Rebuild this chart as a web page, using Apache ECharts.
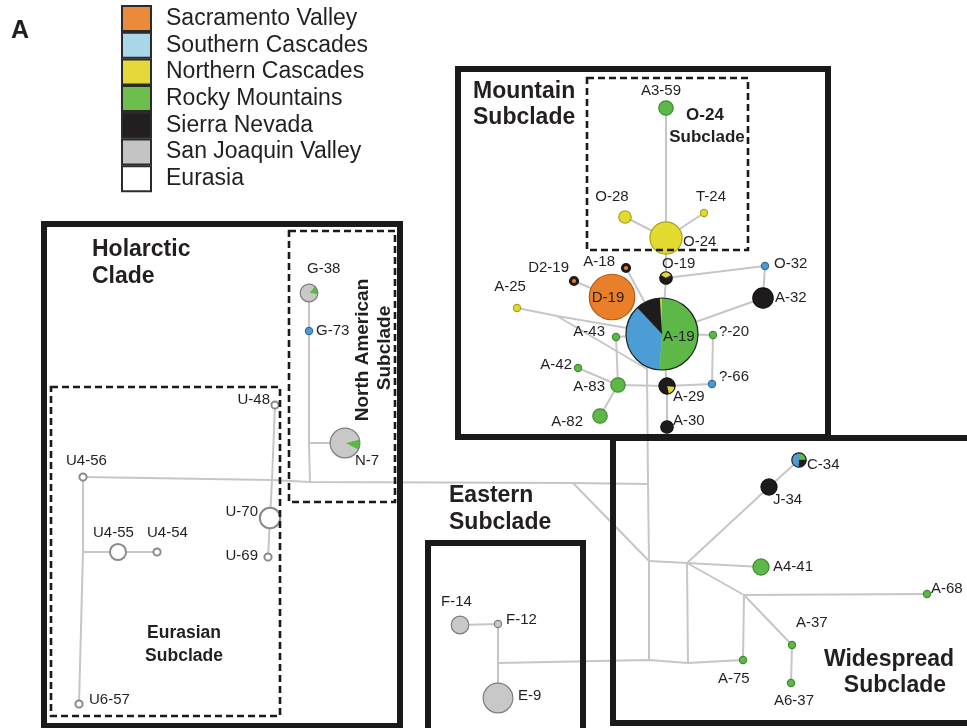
<!DOCTYPE html>
<html>
<head>
<meta charset="utf-8">
<script src="https://cdn.jsdelivr.net/npm/echarts@6/dist/echarts.min.js"></script>
<style>
  html, body { margin: 0; padding: 0; background: #ffffff; }
  #chart { width: 967px; height: 728px; }
</style>
</head>
<body>
<div id="chart"></div>
<script>
// ---- Regions (legend order) ----
const REGIONS = ['Sacramento Valley', 'Southern Cascades', 'Northern Cascades',
                 'Rocky Mountains', 'Sierra Nevada', 'San Joaquin Valley', 'Eurasia'];
const SWATCH  = ['#EC8A3C', '#A9D6E9', '#E4D83B', '#6DBE4C', '#231F20', '#C4C4C4', '#FFFFFF'];
const FILL    = ['#EA7F2A', '#4C9DD6', '#E2DA2C', '#5DB847', '#1E1B1C', '#C8C8C8', '#FFFFFF'];
const OUTLINE = ['#B55A16', '#2F6A9E', '#A9A21E', '#3C8A30', '#111111', '#7D7D7D', '#8A8A8A'];

// ---- Haplotypes ----
const NODE_NAMES = ['A3-59','O-28','T-24','O-24','A-18','D2-19','D-19','O-19','O-32','A-32',
  'A-25','A-19','A-43','?-20','A-42','A-83','A-29','?-66','A-82','A-30',
  'G-38','G-73','N-7','U-48','U4-56','U-70','U4-55','U4-54','U-69','U6-57',
  'F-14','F-12','E-9','C-34','J-34','A4-41','A-68','A-37','A-75','A6-37'];
// sample counts per region, [regionIndex, count], listed clockwise
const NODE_COUNTS = [
  [[3,4]], [[2,3]], [[2,1]], [[2,20]], [[0,1]], [[0,1]], [[0,40]], [[2,1],[4,2]], [[1,1]], [[4,8]],
  [[2,1]], [[3,51],[1,37],[4,11],[2,1]], [[3,1]], [[3,1]], [[3,1]], [[3,4]], [[2,1],[4,4]], [[1,1]], [[3,4]], [[4,3]],
  [[3,1],[5,5]], [[1,1]], [[3,2],[5,15]], [[6,1]], [[6,1]], [[6,8]], [[6,5]], [[6,1]], [[6,1]], [[6,1]],
  [[5,6]], [[5,1]], [[5,17]], [[3,1],[4,1],[1,2]], [[4,5]], [[3,5]], [[3,1]], [[3,1]], [[3,1]], [[3,1]]
];
// network layout (drawing units)
const NODE_X = [666,625,704,666,626,574,612,666,765,763, 517,662,616,713,578,618,667,712,600,667,
                309,309,345,275,83,270,118,157,268,79, 460,498,498,799,769,761,927,792,743,791];
const NODE_Y = [108,217,213,238,268,281,297,278,266,298, 308,334,337,335,368,385,386,384,416,427,
                293,331,443,405,477,518,552,552,557,704, 625,624,698,460,487,567,594,645,660,683];
// first-slice start angle (degrees clockwise from 12 o'clock)
const NODE_START = [0,0,0,0,0,0,0,-60,0,0, 0,0,0,0,0,0,95,0,0,0,
                    40,0,75,0,0,0,0,0,0,0, 0,0,0,0,0,0,0,0,0,0];
const RINGED = ['A-18', 'D2-19'];
// label placement: [dx, dy, align]
const NODE_LABEL = [
  [-5,-17,'center'],[-13,-20,'center'],[7,-16,'center'],[17,4,'left'],[-11,-6,'right'],
  [-5,-13,'right'],[-4,1,'center'],[-4,-14,'left'],[9,-2,'left'],[12,0,'left'],
  [-7,-21,'center'],[1,3,'left'],[-11,-5,'right'],[6,-3,'left'],[-6,-3,'right'],
  [-13,2,'right'],[6,11,'left'],[7,-7,'left'],[-17,6,'right'],[6,-6,'left'],
  [-2,-24,'left'],[7,0,'left'],[10,18,'left'],[-5,-5,'right'],[-17,-16,'left'],
  [-12,-6,'right'],[-25,-19,'left'],[-10,-19,'left'],[-10,-1,'right'],[10,-4,'left'],
  [-19,-23,'left'],[8,-4,'left'],[20,-2,'left'],[8,5,'left'],[4,13,'left'],
  [12,0,'left'],[4,-5,'left'],[4,-22,'left'],[-25,19,'left'],[-17,18,'left']
];

// ---- Median (unsampled) junctions ----
const JUNCTION_NAMES = ['jA25','jT0','jT1','jT2','jT3','jW1','jW2','jW3','jE0','jH1','jH2','jN','jU1','jF'];
const JUNCTION_X = [557,647,648,649,649,687,744,688,573,272,310,309,83,498];
const JUNCTION_Y = [316,369,484,561,660,563,595,663,483,480,482,443,552,663];

// ---- Mutational connections ----
const EDGES = [
  ['A3-59','O-24'], ['O-28','O-24'], ['T-24','O-24'], ['O-24','O-19','A-19'],
  ['O-19','O-32','A-32','A-19'], ['A-18','A-19'], ['D2-19','D-19'],
  ['A-25','jA25','A-19'], ['jA25','jT0','jT1','jT2','jT3'],
  ['A-43','A-19'], ['A-43','A-83'], ['A-42','A-83'], ['A-83','A-82'],
  ['A-83','A-29','?-66','?-20','A-19'], ['A-19','A-29','A-30'],
  ['U4-56','jH1','jH2','jE0','jT1'], ['jE0','jT2'],
  ['U-48','jH1','U-70','U-69'], ['U4-56','jU1','U6-57'], ['jU1','U4-55','U4-54'],
  ['G-38','G-73','jN','jH2'], ['jN','N-7'],
  ['F-14','F-12','jF','E-9'], ['jF','jT3','jW3','A-75'],
  ['jT2','jW1','A4-41'], ['jW1','J-34','C-34'], ['jW1','jW2','A-37','A6-37'],
  ['jW2','A-68'], ['jW2','A-75'], ['jW1','jW3']
];

// ---- Clade frames ----
const CLADE_BOXES = [[44,224,400,726],[458,69,828,437],[428,543,583,740],[613,438,975,723]];
const SUBCLADE_BOXES = [[587,78,748,250],[289,231,395,502],[51,387,280,716]];
// headings: [text, x, y, size, align, rotated]
const HEADINGS = [
  ['A', 11, 31, 25, 'left', 0],
  ['Mountain', 473, 92, 23, 'left', 0], ['Subclade', 473, 118, 23, 'left', 0],
  ['O-24', 705, 115, 17, 'center', 0], ['Subclade', 707, 137, 17, 'center', 0],
  ['Holarctic', 92, 250, 23, 'left', 0], ['Clade', 92, 277, 23, 'left', 0],
  ['North American', 363, 350, 19, 'center', 1], ['Subclade', 385, 348, 19, 'center', 1],
  ['Eurasian', 184, 633, 17.5, 'center', 0], ['Subclade', 184, 656, 17.5, 'center', 0],
  ['Eastern', 449, 496, 23, 'left', 0], ['Subclade', 449, 523, 23, 'left', 0],
  ['Widespread', 889, 660, 23, 'center', 0], ['Subclade', 895, 686, 23, 'center', 0]
];

const FONT = '"Liberation Sans", Arial, Helvetica, sans-serif';
const INK = '#231F20';

function pointOf(name) {
  let i = NODE_NAMES.indexOf(name);
  if (i >= 0) return [NODE_X[i], NODE_Y[i]];
  i = JUNCTION_NAMES.indexOf(name);
  return [JUNCTION_X[i], JUNCTION_Y[i]];
}
function total(n) { return NODE_COUNTS[n].reduce((s, p) => s + p[1], 0); }
function radiusPx(n, api) {
  const unit = api.size([1, 1])[0];
  return 3.6 * Math.sqrt(total(n)) * unit;
}

const chart = echarts.init(document.getElementById('chart'), null, { renderer: 'canvas' });

const series = [];

// connections
series.push({
  type: 'custom', name: 'edges', coordinateSystem: 'cartesian2d', silent: true,
  encode: { x: 0, y: 1 },
  data: EDGES.map((p, i) => [pointOf(p[0])[0], pointOf(p[0])[1], i]),
  renderItem: function (params, api) {
    const path = EDGES[api.value(2)];
    return {
      type: 'polyline',
      shape: { points: path.map(nm => api.coord(pointOf(nm))) },
      style: { stroke: '#C6C6C6', lineWidth: 2, fill: null, lineJoin: 'round' }
    };
  }
});

// pie slices, one series per region
REGIONS.forEach(function (region, k) {
  const data = [];
  NODE_COUNTS.forEach(function (parts, n) {
    if (parts.some(p => p[0] === k)) data.push([NODE_X[n], NODE_Y[n], n]);
  });
  series.push({
    type: 'custom', name: region, coordinateSystem: 'cartesian2d', silent: true,
    itemStyle: { color: SWATCH[k] },
    encode: { x: 0, y: 1 },
    data: data,
    renderItem: function (params, api) {
      const n = api.value(2);
      const c = api.coord([NODE_X[n], NODE_Y[n]]);
      const parts = NODE_COUNTS[n];
      const tot = total(n);
      const r = radiusPx(n, api);
      if (parts.length === 1) {
        return { type: 'circle', shape: { cx: c[0], cy: c[1], r: r }, style: { fill: FILL[k] } };
      }
      let acc = 0, s = 0, e = 0;
      parts.forEach(function (p) {
        if (p[0] === k) { s = acc; e = acc + p[1]; }
        acc += p[1];
      });
      const a0 = (NODE_START[n] - 90) * Math.PI / 180;
      return {
        type: 'sector',
        shape: { cx: c[0], cy: c[1], r0: 0, r: r,
                 startAngle: a0 + s / tot * Math.PI * 2, endAngle: a0 + e / tot * Math.PI * 2,
                 clockwise: true },
        style: { fill: FILL[k], stroke: FILL[k], lineWidth: 0.3 }
      };
    }
  });
});

// outlines and haplotype labels
series.push({
  type: 'custom', name: 'haplotypes', coordinateSystem: 'cartesian2d', silent: true,
  encode: { x: 0, y: 1 },
  data: NODE_NAMES.map((nm, n) => [NODE_X[n], NODE_Y[n], n]),
  renderItem: function (params, api) {
    const n = api.value(2);
    const c = api.coord([NODE_X[n], NODE_Y[n]]);
    const parts = NODE_COUNTS[n];
    const r = radiusPx(n, api);
    let main = parts[0];
    parts.forEach(p => { if (p[1] > main[1]) main = p; });
    let stroke = parts.length >= 3 ? '#222222' : OUTLINE[main[0]];
    let lw = main[0] === 6 ? 2 : 1.2;
    if (RINGED.indexOf(NODE_NAMES[n]) >= 0) { stroke = '#1A1A1A'; lw = 3; }
    const lab = NODE_LABEL[n];
    return {
      type: 'group',
      children: [
        { type: 'circle', shape: { cx: c[0], cy: c[1], r: r }, style: { fill: null, stroke: stroke, lineWidth: lw } },
        { type: 'text', x: c[0] + lab[0], y: c[1] + lab[1],
          style: { text: NODE_NAMES[n], fill: INK, fontSize: 15, fontFamily: FONT,
                   align: lab[2], verticalAlign: 'middle' } }
      ]
    };
  }
});

// clade frames
series.push({
  type: 'custom', name: 'clades', coordinateSystem: 'cartesian2d', silent: true,
  encode: { x: 0, y: 1 },
  data: CLADE_BOXES.map((b, i) => [b[0], b[1], i]),
  renderItem: function (params, api) {
    const b = CLADE_BOXES[api.value(2)];
    const p0 = api.coord([b[0], b[1]]), p1 = api.coord([b[2], b[3]]);
    return {
      type: 'rect',
      shape: { x: p0[0], y: p0[1], width: p1[0] - p0[0], height: p1[1] - p0[1] },
      style: { fill: null, stroke: '#1A1A1A', lineWidth: 6, lineJoin: 'miter' }
    };
  }
});
series.push({
  type: 'custom', name: 'subclades', coordinateSystem: 'cartesian2d', silent: true,
  encode: { x: 0, y: 1 },
  data: SUBCLADE_BOXES.map((b, i) => [b[0], b[1], i]),
  renderItem: function (params, api) {
    const b = SUBCLADE_BOXES[api.value(2)];
    const p0 = api.coord([b[0], b[1]]), p1 = api.coord([b[2], b[3]]);
    return {
      type: 'rect',
      shape: { x: p0[0], y: p0[1], width: p1[0] - p0[0], height: p1[1] - p0[1] },
      style: { fill: null, stroke: '#1A1A1A', lineWidth: 2.6, lineDash: [7, 4] }
    };
  }
});

// headings
series.push({
  type: 'custom', name: 'headings', coordinateSystem: 'cartesian2d', silent: true,
  encode: { x: 0, y: 1 },
  data: HEADINGS.map((h, i) => [h[1], h[2], i]),
  renderItem: function (params, api) {
    const h = HEADINGS[api.value(2)];
    const p = api.coord([h[1], h[2]]);
    return {
      type: 'text', x: p[0], y: p[1], rotation: h[5] ? Math.PI / 2 : 0,
      style: { text: h[0], fill: INK, fontSize: h[3], fontWeight: 'bold', fontFamily: FONT,
               align: h[4], verticalAlign: 'middle' }
    };
  }
});

chart.setOption({
  backgroundColor: '#ffffff',
  animation: false,
  grid: { left: 0, right: 0, top: 0, bottom: 0 },
  xAxis: { type: 'value', min: 0, max: 967, show: false },
  yAxis: { type: 'value', min: 0, max: 728, inverse: true, show: false },
  legend: {
    data: REGIONS, orient: 'vertical', left: 121, top: 5, padding: 0,
    itemWidth: 29, itemHeight: 25, itemGap: -0.3, icon: 'rect', selectedMode: false,
    itemStyle: { borderColor: '#2B2B2B', borderWidth: 2 },
    textStyle: { fontSize: 23, lineHeight: 24, height: 24, color: INK, fontFamily: FONT,
                 padding: [0, 0, 0, 10] }
  },
  series: series
});
</script>
</body>
</html>
